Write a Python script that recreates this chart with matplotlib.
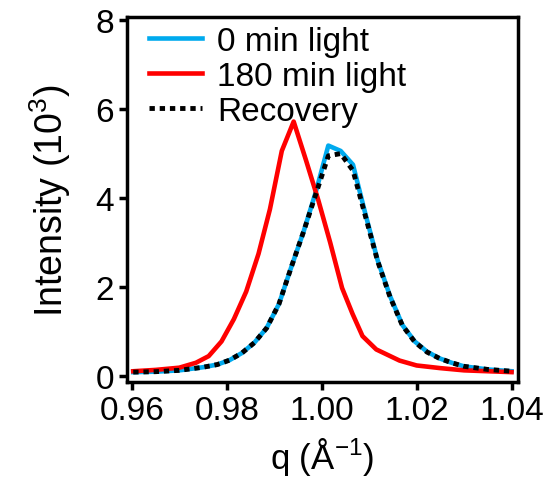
import matplotlib
matplotlib.use("Agg")
import matplotlib.pyplot as plt

plt.rcParams['font.family'] = ['Liberation Sans', 'DejaVu Sans']
plt.rcParams['mathtext.fontset'] = 'custom'
plt.rcParams['mathtext.rm'] = 'Liberation Sans'
plt.rcParams['mathtext.it'] = 'Liberation Sans'

# datos (q en 1/A, intensidad en 10^3)
q_0min = [0.9603, 0.9650, 0.9700, 0.9750, 0.9780, 0.9806, 0.9832, 0.9858, 0.9884,
          0.9910, 0.9936, 0.9962, 0.9988, 1.0014, 1.0040, 1.0066, 1.0092, 1.0118,
          1.0144, 1.0170, 1.0196, 1.0222, 1.0248, 1.0274, 1.0300, 1.0350, 1.0400]
i_0min = [0.09, 0.10, 0.13, 0.20, 0.26, 0.36, 0.52, 0.75, 1.08,
          1.62, 2.45, 3.25, 4.15, 5.18, 5.06, 4.75, 3.65, 2.60,
          1.80, 1.15, 0.78, 0.55, 0.40, 0.30, 0.22, 0.15, 0.11]

q_180min = [0.9603, 0.9650, 0.9700, 0.9735, 0.9762, 0.9789, 0.9815, 0.9841, 0.9867,
            0.9891, 0.9916, 0.9941, 0.9967, 0.9993, 1.0018, 1.0043, 1.0065, 1.0086,
            1.0115, 1.0164, 1.0200, 1.0250, 1.0300, 1.0350, 1.0400]
i_180min = [0.11, 0.14, 0.19, 0.30, 0.45, 0.78, 1.28, 1.90, 2.75,
            3.75, 5.06, 5.72, 4.85, 3.95, 3.00, 1.98, 1.40, 0.90,
            0.60, 0.35, 0.24, 0.18, 0.13, 0.11, 0.09]

q_rec = q_0min
i_rec = [0.09, 0.10, 0.13, 0.20, 0.26, 0.36, 0.52, 0.75, 1.08,
         1.62, 2.45, 3.25, 4.10, 4.95, 5.00, 4.62, 3.60, 2.58,
         1.78, 1.14, 0.77, 0.54, 0.40, 0.30, 0.22, 0.15, 0.11]

xticks = [0.96, 0.98, 1.00, 1.02, 1.04]
xticklabels = ['0.96', '0.98', '1.00', '1.02', '1.04']
yticks = [0, 2, 4, 6, 8]

fig = plt.figure(figsize=(5.49, 4.85), dpi=100)
ax = fig.add_axes([0.231, 0.210, 0.712, 0.753])

ax.plot(q_0min, i_0min, color='#00AAEE', lw=3.3, label='0 min light')
ax.plot(q_180min, i_180min, color='#FF0000', lw=3.3, label='180 min light')
ax.plot(q_rec, i_rec, color='black', lw=3.5, linestyle=(0, (1.1, 1.0)), label='Recovery')

ax.set_xlim(0.95895, 1.0413)
ax.set_ylim(-0.135, 8.07)
ax.set_xticks(xticks)
ax.set_xticklabels(xticklabels)
ax.set_yticks(yticks)

for s in ax.spines.values():
    s.set_linewidth(2.5)
ax.tick_params(direction='out', length=6, width=2.5, labelsize=24, pad=3)

ax.set_xlabel('q (Å$^{-1}$)', fontsize=25, labelpad=7)
ax.set_ylabel('Intensity (10$^{3}$)', fontsize=27, labelpad=16)

ax.legend(loc='upper left', frameon=False, fontsize=24, handlelength=1.6,
          handletextpad=0.45, labelspacing=0.12, borderaxespad=0.0,
          bbox_to_anchor=(0.022, 1.013))

fig.savefig('out.png', dpi=100)
